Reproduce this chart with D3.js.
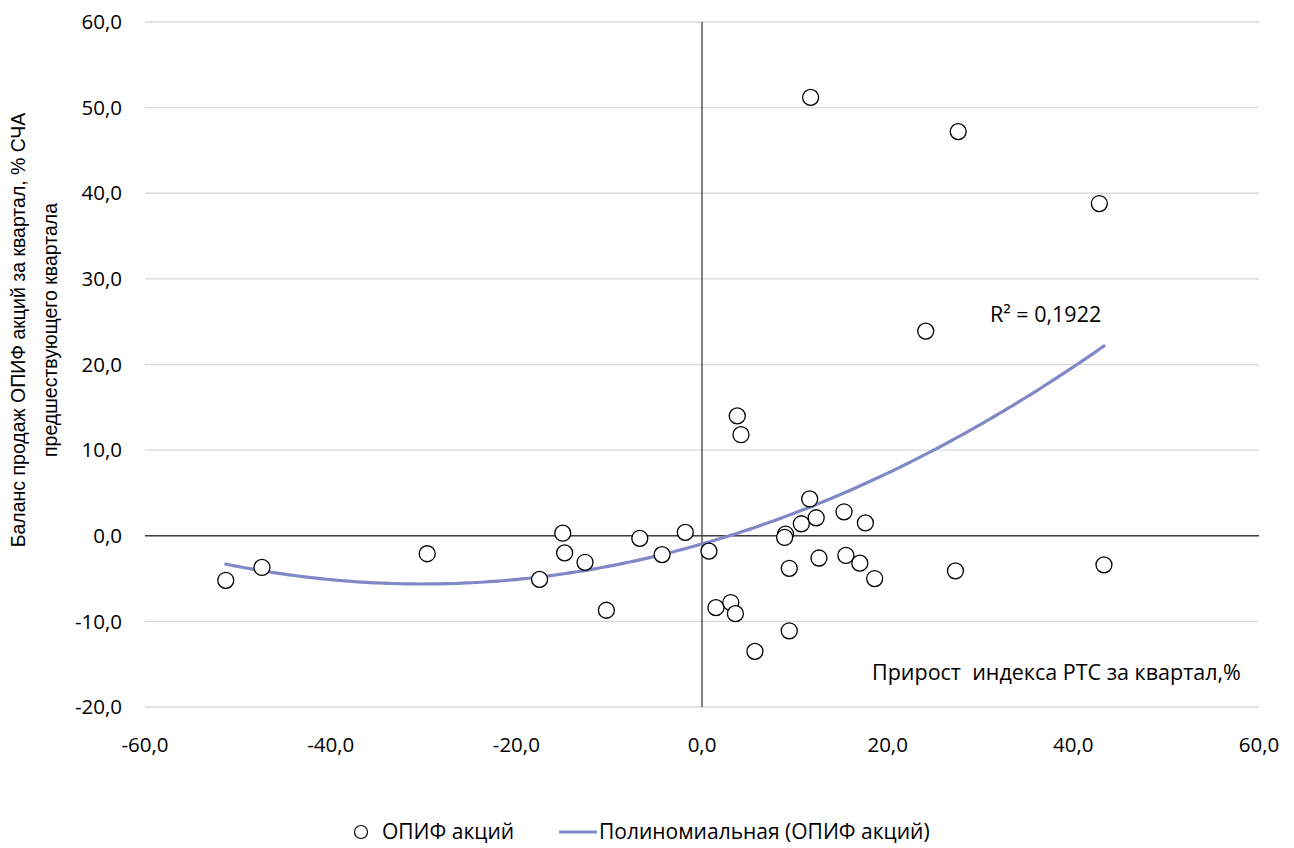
<!DOCTYPE html>
<html><head><meta charset="utf-8">
<script src="https://cdn.jsdelivr.net/npm/d3@7"></script>
<style>
body{margin:0;background:#fff;}
svg{display:block;}
text{white-space:pre;}
</style></head>
<body>
<svg id="chart" width="1294" height="848"></svg>
<script>
// Data: прирост индекса РТС (x), баланс продаж ОПИФ акций (y)
const rtsGrowth = [-51.3,-47.4,-29.6,-17.5,-15.0,-14.8,-12.6,-10.3,-6.7,-4.3,-1.8,0.75,1.5,3.1,3.6,3.8,4.2,5.7,9.0,8.9,9.4,9.4,10.7,11.6,11.7,12.3,12.6,15.3,15.5,17.0,17.6,18.6,24.1,27.3,27.6,42.8,43.3];
const fundFlow  = [-5.2,-3.7,-2.1,-5.1,0.3,-2.0,-3.1,-8.7,-0.3,-2.2,0.4,-1.8,-8.4,-7.8,-9.1,14.0,11.8,-13.5,0.2,-0.2,-3.8,-11.1,1.4,4.3,51.2,2.1,-2.6,2.8,-2.3,-3.2,1.5,-5.0,23.9,-4.1,47.2,38.8,-3.4];
const xTicks = [-60,-40,-20,0,20,40,60];
const yTicks = [-20,-10,0,10,20,30,40,50,60];
const seriesName = "ОПИФ акций";
const trendName = "Полиномиальная (ОПИФ акций)";
const r2Label = "R² = 0,1922";
const xTitle = "Прирост  индекса РТС за квартал,%";
const yTitle = ["Баланс продаж ОПИФ акций за квартал, % СЧА", "предшествующего квартала"];

const svg = d3.select("#chart");
const L = 145, R = 1259, T = 22, B = 707;
const x = d3.scaleLinear().domain([-60,60]).range([L,R]);
const y = d3.scaleLinear().domain([-20,60]).range([B,T]);
const fmt = v => d3.format(".1f")(v).replace(".", ",").replace("−","-");
const tickFont = "'Open Sans', sans-serif";

// grid
svg.append("g").selectAll("line").data(yTicks).join("line")
  .attr("x1",L).attr("x2",R).attr("y1",d=>y(d)).attr("y2",d=>y(d))
  .attr("stroke","#d9d9d9").attr("stroke-width",1.3);

// axes through zero
svg.append("line").attr("x1",L).attr("x2",R).attr("y1",y(0)).attr("y2",y(0)).attr("stroke","#404040").attr("stroke-width",1.3);
svg.append("line").attr("x1",x(0)).attr("x2",x(0)).attr("y1",T).attr("y2",B).attr("stroke","#404040").attr("stroke-width",1.3);

// y tick labels
svg.append("g").selectAll("text").data(yTicks).join("text")
  .attr("x",122).attr("y",d=>y(d)).attr("dy","0.35em").attr("text-anchor","end")
  .attr("font-family",tickFont).attr("font-size",20.5).attr("fill","#000").text(fmt);
// x tick labels
svg.append("g").selectAll("text").data(xTicks).join("text")
  .attr("x",d=>x(d)).attr("y",745).attr("dy","0.35em").attr("text-anchor","middle")
  .attr("font-family",tickFont).attr("font-size",20.5).attr("fill","#000").text(fmt);

// quadratic least squares trendline
function polyfit2(xs, ys){
  const n = xs.length;
  let S=[0,0,0,0,0], Ty=[0,0,0];
  for(let i=0;i<n;i++){
    const xi=xs[i], yi=ys[i];
    let p=1;
    for(let k=0;k<5;k++){S[k]+=p; if(k<3) Ty[k]+=p*yi; p*=xi;}
  }
  const A=[[S[0],S[1],S[2],Ty[0]],[S[1],S[2],S[3],Ty[1]],[S[2],S[3],S[4],Ty[2]]];
  for(let i=0;i<3;i++){
    for(let j=i+1;j<3;j++){const f=A[j][i]/A[i][i]; for(let k=i;k<4;k++) A[j][k]-=f*A[i][k];}
  }
  const c=[0,0,0];
  for(let i=2;i>=0;i--){let s=A[i][3]; for(let k=i+1;k<3;k++) s-=A[i][k]*c[k]; c[i]=s/A[i][i];}
  return c;
}
const coef = polyfit2(rtsGrowth, fundFlow);
const xmin = d3.min(rtsGrowth), xmax = d3.max(rtsGrowth);
const curve = d3.range(0,201).map(i=>{const xv = xmin+(xmax-xmin)*i/200; return [xv, coef[0]+coef[1]*xv+coef[2]*xv*xv];});
svg.append("path").datum(curve)
  .attr("d", d3.line().x(d=>x(d[0])).y(d=>y(d[1])))
  .attr("fill","none").attr("stroke","#8088c6").attr("stroke-width",3.2).attr("stroke-linecap","round");

// points
svg.append("g").selectAll("circle").data(rtsGrowth.map((v,i)=>[v,fundFlow[i]])).join("circle")
  .attr("cx",d=>x(d[0])).attr("cy",d=>y(d[1])).attr("r",8)
  .attr("fill","#fff").attr("stroke","#000").attr("stroke-width",1.3);

// R² label
svg.append("text").attr("x",990).attr("y",314).attr("dy","0.35em")
  .attr("font-family",tickFont).attr("font-size",21.5).attr("fill","#000").text(r2Label);

// x title
svg.append("text").attr("x",872).attr("y",672).attr("dy","0.35em")
  .attr("font-family",tickFont).attr("font-size",21.5).attr("fill","#000").text(xTitle);

// y title
const yt = svg.append("text").attr("transform","translate(0,330) rotate(-90)")
  .attr("text-anchor","middle").attr("font-family","'Liberation Sans', Arial, sans-serif").attr("font-size",19.5).attr("fill","#000");
yt.append("tspan").attr("x",0).attr("y",25).text(yTitle[0]);
yt.append("tspan").attr("x",0).attr("y",57).text(yTitle[1]);

// legend
const lg = svg.append("g");
lg.append("circle").attr("cx",361).attr("cy",832).attr("r",6.5).attr("fill","#fff").attr("stroke","#000").attr("stroke-width",1.2);
lg.append("text").attr("x",382).attr("y",832).attr("dy","0.35em").attr("font-family",tickFont).attr("font-size",21).text(seriesName);
lg.append("line").attr("x1",559).attr("x2",597).attr("y1",832).attr("y2",832).attr("stroke","#8088c6").attr("stroke-width",3);
lg.append("text").attr("x",599).attr("y",832).attr("dy","0.35em").attr("font-family",tickFont).attr("font-size",21).text(trendName);
</script>
</body></html>
